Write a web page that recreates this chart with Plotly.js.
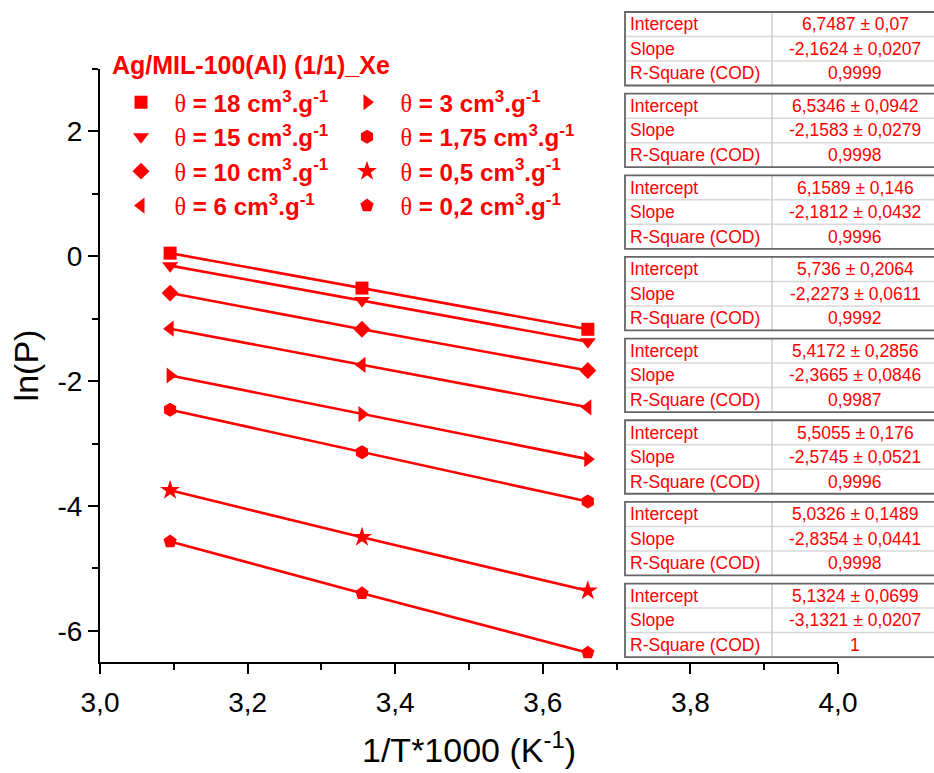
<!DOCTYPE html>
<html><head><meta charset="utf-8">
<script src="https://cdn.plot.ly/plotly-3.0.1.min.js"></script>
<style>html,body{margin:0;padding:0;background:#fff}</style>
</head><body>
<div id="chart" style="width:934px;height:773px"></div>
<script>
// ---- data ----
const invT = [3.095, 3.355, 3.661];
const thetaLabels = ['18', '15', '10', '6', '3', '1,75', '0,5', '0,2'];
const lnP_18  = [0.05, -0.51, -1.17];
const lnP_15  = [-0.15, -0.71, -1.37];
const lnP_10  = [-0.59, -1.17, -1.83];
const lnP_6   = [-1.16, -1.74, -2.42];
const lnP_3   = [-1.91, -2.53, -3.25];
const lnP_175 = [-2.46, -3.14, -3.93];
const lnP_05  = [-3.75, -4.50, -5.36];
const lnP_02  = [-4.57, -5.40, -6.35];
const intercepts = ['6,7487 ± 0,07', '6,5346 ± 0,0942', '6,1589 ± 0,146', '5,736 ± 0,2064',
                    '5,4172 ± 0,2856', '5,5055 ± 0,176', '5,0326 ± 0,1489', '5,1324 ± 0,0699'];
const slopes = ['-2,1624 ± 0,0207', '-2,1583 ± 0,0279', '-2,1812 ± 0,0432', '-2,2273 ± 0,0611',
                '-2,3665 ± 0,0846', '-2,5745 ± 0,0521', '-2,8354 ± 0,0441', '-3,1321 ± 0,0207'];
const rSquare = ['0,9999', '0,9998', '0,9996', '0,9992', '0,9987', '0,9996', '0,9998', '1'];
const rowLabels = ['Intercept', 'Slope', 'R-Square (COD)'];
const yTickVals = [-6, -4, -2, 0, 2];
const yTickText = ['-6', '-4', '-2', '0', '2'];
const legendTitle = 'Ag/MIL-100(Al) (1/1)_Xe';

const allSeries = [lnP_18, lnP_15, lnP_10, lnP_6, lnP_3, lnP_175, lnP_05, lnP_02];
const symbols = ['square', 'triangle-down', 'diamond', 'triangle-left',
                 'triangle-right', 'hexagon', 'star', 'pentagon'];
const sizes = [13, 14, 13, 14, 14, 14, 15, 14];
const RED = '#ff0000';
const FONT = 'Liberation Sans, Arial, sans-serif';

const traces = [];
allSeries.forEach((ys, i) => {
  traces.push({
    x: invT, y: ys, type: 'scatter', mode: 'lines',
    line: {color: RED, width: 2.6}, showlegend: false, hoverinfo: 'skip'
  });
});
allSeries.forEach((ys, i) => {
  traces.push({
    x: invT, y: ys, type: 'scatter', mode: 'markers',
    marker: {symbol: symbols[i], size: sizes[i], color: RED, line: {width: 0}},
    name: '\u00a0\u00a0<span style="font-family:\'Liberation Serif\',serif;font-weight:normal">θ</span> = ' +
          thetaLabels[i] + ' cm<sup>3</sup>.g<sup>-1</sup>',
    legend: i < 4 ? 'legend' : 'legend2'
  });
});

// ---- plot-area geometry helpers (pixel -> paper) ----
const PL = 100, PR = 838, PT = 69, PB = 662;
const PX = p => (p - PL) / (PR - PL);
const PY = q => (PB - q) / (PB - PT);

// ---- tables (shapes + annotations) ----
const shapes = [];
const annotations = [];
const tTop0 = 12, tStep = 81.65, rowH = 24.5;
for (let t = 0; t < 8; t++) {
  const top = tTop0 + t * tStep;
  const bot = top + 3 * rowH;
  for (let r = 1; r < 3; r++) {
    shapes.push({type: 'line', xref: 'paper', yref: 'paper',
      x0: PX(625), x1: PX(940), y0: PY(top + r * rowH), y1: PY(top + r * rowH),
      line: {color: '#d8d8d8', width: 1.5}});
  }
  shapes.push({type: 'line', xref: 'paper', yref: 'paper',
    x0: PX(772), x1: PX(772), y0: PY(top), y1: PY(bot),
    line: {color: '#cccccc', width: 1.5}});
  shapes.push({type: 'rect', xref: 'paper', yref: 'paper',
    x0: PX(625), x1: PX(942), y0: PY(top), y1: PY(bot),
    line: {color: '#666666', width: 1.8}});
  const vals = [intercepts[t], slopes[t], rSquare[t]];
  for (let r = 0; r < 3; r++) {
    const yc = PY(top + (r + 0.5) * rowH);
    annotations.push({xref: 'paper', yref: 'paper', x: PX(628), y: yc,
      xanchor: 'left', yanchor: 'middle', showarrow: false, text: rowLabels[r],
      font: {family: FONT, size: 17.5, color: RED}});
    annotations.push({xref: 'paper', yref: 'paper', x: PX(855), y: yc,
      xanchor: 'center', yanchor: 'middle', showarrow: false, text: vals[r],
      font: {family: FONT, size: 17.5, color: RED}});
  }
}

// legend title
annotations.push({xref: 'paper', yref: 'paper', x: PX(110), y: PY(65),
  xanchor: 'left', yanchor: 'middle', showarrow: false, text: legendTitle,
  font: {family: FONT, size: 25, color: RED, weight: 'bold'}});

const legendFont = {family: FONT, size: 24.2, color: RED, weight: 'bold'};
const layout = {
  width: 934, height: 773,
  margin: {l: PL, r: 934 - PR, t: PT, b: 773 - PB},
  paper_bgcolor: '#ffffff', plot_bgcolor: '#ffffff',
  separators: ', ',
  font: {family: FONT, color: '#000'},
  showlegend: true,
  xaxis: {
    range: [3.0, 4.0], tickmode: 'linear', tick0: 3.0, dtick: 0.2, tickformat: '.1f',
    ticks: 'outside', ticklen: 10, tickwidth: 2, tickcolor: '#000', ticklabelstandoff: 4,
    showline: true, linewidth: 2, linecolor: '#000', mirror: false,
    showgrid: false, zeroline: false,
    minor: {tickmode: 'linear', tick0: 3.0, dtick: 0.1, ticks: 'outside', ticklen: 6,
            tickwidth: 2, tickcolor: '#000', showgrid: false},
    tickfont: {family: FONT, size: 28, color: '#000'},
    title: {text: '1/T*1000 (K<sup>-1</sup>)', font: {family: FONT, size: 34, color: '#000'}, standoff: 22}
  },
  yaxis: {
    range: [-6.5, 3], tickmode: 'array', tickvals: yTickVals, ticktext: yTickText,
    ticks: 'outside', ticklen: 10, tickwidth: 2, tickcolor: '#000',
    showline: true, linewidth: 2, linecolor: '#000', mirror: false,
    showgrid: false, zeroline: false,
    minor: {tickmode: 'array', tickvals: [-5, -3, -1, 1, 3], ticks: 'outside', ticklen: 6,
            tickwidth: 2, tickcolor: '#000', showgrid: false},
    tickfont: {family: FONT, size: 28, color: '#000'},
    title: {text: 'ln(P)', font: {family: FONT, size: 34, color: '#000'}, standoff: 9}
  },
  legend: {
    x: PX(121), xanchor: 'left', y: PY(80), yanchor: 'top',
    bgcolor: 'rgba(0,0,0,0)', borderwidth: 0,
    font: legendFont, tracegroupgap: 0
  },
  legend2: {
    x: PX(347), xanchor: 'left', y: PY(80), yanchor: 'top',
    bgcolor: 'rgba(0,0,0,0)', borderwidth: 0,
    font: legendFont, tracegroupgap: 0
  },
  shapes: shapes,
  annotations: annotations
};

Plotly.newPlot('chart', traces, layout, {displayModeBar: false, staticPlot: true});
</script>
</body></html>
